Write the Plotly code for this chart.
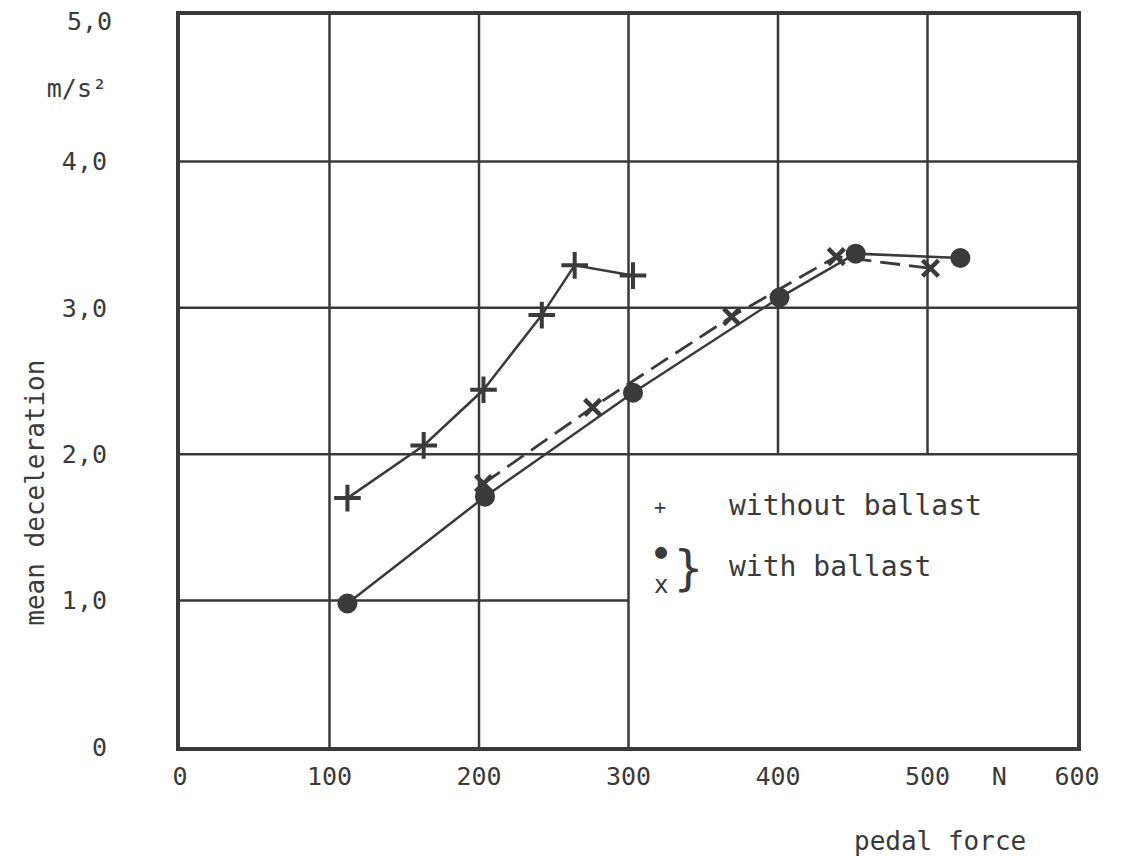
import plotly.graph_objects as go

# --- data ---
plus_x = [112, 163, 203, 242, 264, 303]
plus_y = [1.70, 2.06, 2.44, 2.95, 3.29, 3.22]

dot_x = [112, 204, 303, 401, 452, 522]
dot_y = [0.98, 1.71, 2.42, 3.07, 3.37, 3.34]

cross_x = [203, 276, 369, 439, 502]
cross_y = [1.80, 2.32, 2.94, 3.35, 3.27]

x_tick_vals = [0, 100, 200, 300, 400, 500, 548, 600]
x_tick_text = ["0", "100", "200", "300", "400", "500", "N", "600"]
y_tick_vals = [0, 1, 2, 3, 4, 4.5]
y_tick_text = ["0", "1,0", "2,0", "3,0", "4,0", "m/s²"]
y_top_val = 5
y_top_text = "5,0"

# grid segments (value, start, end)
v_grid = [(100, 0, 5), (200, 0, 5), (300, 0, 5), (400, 2, 5), (500, 2, 5)]
h_grid = [(1, 0, 300), (2, 0, 600), (3, 0, 600), (4, 0, 600)]

INK = "#3a3a3a"
FONT = "DejaVu Sans Mono"

fig = go.Figure()

fig.add_trace(go.Scatter(x=plus_x, y=plus_y, mode="lines+markers",
                         line=dict(color=INK, width=2.5),
                         marker=dict(symbol="cross-thin", size=19,
                                     line=dict(color=INK, width=4)),
                         showlegend=False))
fig.add_trace(go.Scatter(x=dot_x, y=dot_y, mode="lines+markers",
                         line=dict(color=INK, width=2.5),
                         marker=dict(symbol="circle", size=20, color=INK),
                         showlegend=False))
fig.add_trace(go.Scatter(x=cross_x, y=cross_y, mode="lines+markers",
                         line=dict(color=INK, width=2.8, dash="20px,9px"),
                         marker=dict(symbol="x-thin", size=16,
                                     line=dict(color=INK, width=4.5)),
                         showlegend=False))

shapes = []
for xv, y0, y1 in v_grid:
    shapes.append(dict(type="line", xref="x", yref="y", x0=xv, x1=xv, y0=y0, y1=y1,
                       line=dict(color=INK, width=2.5), layer="below"))
for yv, x0, x1 in h_grid:
    shapes.append(dict(type="line", xref="x", yref="y", x0=x0, x1=x1, y0=yv, y1=yv,
                       line=dict(color=INK, width=2.5), layer="below"))

annotations = [
    dict(text=y_top_text, xref="paper", yref="y", x=-0.0735, y=y_top_val, yshift=-6,
         xanchor="right", yanchor="middle", showarrow=False,
         font=dict(family=FONT, size=25, color=INK)),
    dict(text="mean deceleration", xref="paper", yref="paper", x=-0.162, y=0.347,
         xanchor="center", yanchor="middle",
         textangle=-90, showarrow=False, font=dict(family=FONT, size=26, color=INK)),
    dict(text="pedal force", xref="paper", yref="paper", x=0.847, y=-0.128,
         xanchor="center", yanchor="middle",
         showarrow=False, font=dict(family=FONT, size=26, color=INK)),
    dict(text="+", xref="x", yref="y", x=321, y=1.64, showarrow=False,
         font=dict(family=FONT, size=20, color=INK)),
    dict(text="without ballast", xref="x", yref="y", x=366, y=1.65, xanchor="left",
         showarrow=False, font=dict(family=FONT, size=28, color=INK)),
    dict(text="●", xref="x", yref="y", x=322, y=1.34, showarrow=False,
         font=dict(family=FONT, size=20, color=INK)),
    dict(text="x", xref="x", yref="y", x=322, y=1.11, showarrow=False,
         font=dict(family=FONT, size=24, color=INK)),
    dict(text="}", xref="x", yref="y", x=340, y=1.22, showarrow=False,
         font=dict(family=FONT, size=48, color=INK)),
    dict(text="with ballast", xref="x", yref="y", x=366, y=1.23, xanchor="left",
         showarrow=False, font=dict(family=FONT, size=28, color=INK)),
]

fig.update_layout(
    width=1116, height=848,
    margin=dict(l=172, r=47, t=7, b=109),
    paper_bgcolor="white", plot_bgcolor="white",
    shapes=shapes, annotations=annotations,
    font=dict(family=FONT, size=25, color=INK),
)
fig.update_xaxes(range=[0, 600], showgrid=False, zeroline=False, automargin=False,
                 showline=True, linewidth=4, linecolor=INK, mirror=True,
                 tickvals=x_tick_vals, ticktext=x_tick_text, ticks="",
                 ticklabeloverflow="allow",
                 ticklabelstandoff=4, tickfont=dict(family=FONT, size=25, color=INK))
fig.update_yaxes(range=[0, 5], showgrid=False, zeroline=False, automargin=False,
                 showline=True, linewidth=4, linecolor=INK, mirror=True,
                 tickvals=y_tick_vals, ticktext=y_tick_text, ticks="",
                 ticklabeloverflow="allow",
                 ticklabelstandoff=64, tickfont=dict(family=FONT, size=25, color=INK))

fig.write_html("out.html")
